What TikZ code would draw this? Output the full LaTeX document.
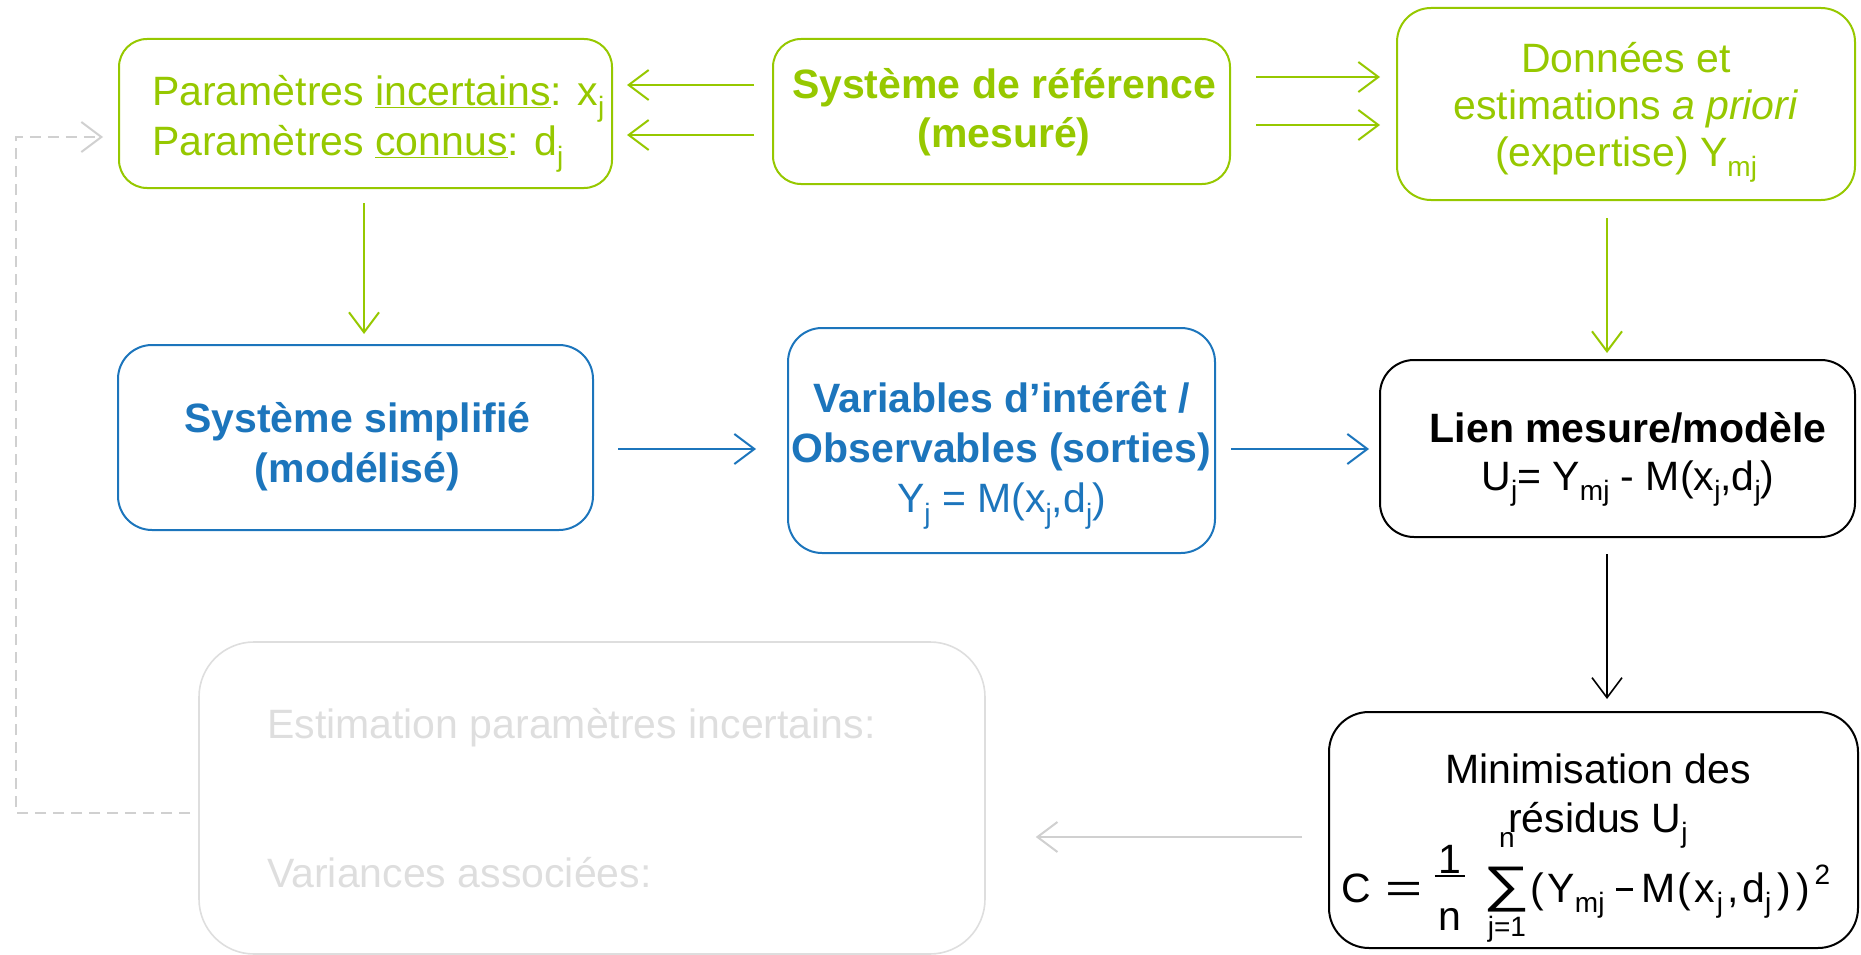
\documentclass[tikz,border=0pt]{standalone}
\usepackage{fontspec}
\setmainfont{Liberation Sans}
\usepackage{graphicx}
\usetikzlibrary{arrows.meta,calc}

\definecolor{leaf}{RGB}{150,200,0}
\definecolor{sea}{RGB}{28,117,188}
\definecolor{fog}{RGB}{222,222,222}
\definecolor{fogline}{RGB}{208,208,208}

% lowered small index, as in x_j
\newcommand\lofont{\fontsize{28}{28}\selectfont}
\newcommand\lo[1]{\raisebox{-0.25em}{\lofont #1}}
\newcommand\fsz{\fontsize{41}{49}\selectfont}
% pieces of the cost formula: 1/n and the sum with its bounds
\newcommand\onen{\makebox[30pt]{\rlap{\raisebox{29pt}{\makebox[30pt]{1}}}\rlap{\rule[25pt]{30pt}{1.6pt}}\raisebox{-28pt}{\makebox[30pt]{n}}}}
\newcommand\sumjn{\makebox[46pt]{\rlap{\raisebox{55pt}{\makebox[46pt]{\lofont n}}}\rlap{\raisebox{-34pt}{\makebox[46pt]{\lofont j=1}}}\raisebox{1pt}{\makebox[46pt]{\scalebox{1.3}[1]{\fontsize{50}{50}\selectfont ∑}}}}}
\newcommand\mns{\rule[11pt]{17pt}{2.6pt}}

\tikzset{
  box/.style={draw, line width=2pt, rounded corners=28pt, inner sep=0pt},
  gbox/.style={box, draw=leaf},
  bbox/.style={box, draw=sea},
  kbox/.style={box, draw=black},
  txt/.style={inner sep=0pt, align=center, font=\fsz},
  tipv/.style={-{Straight Barb[length=20pt,width=30pt,line width=#1]}},
  garr/.style={draw=leaf, line width=2pt, tipv=2pt},
  barr/.style={draw=sea, line width=2pt, tipv=2pt},
  karr/.style={draw=black, line width=1.6pt, tipv=1.6pt},
  farr/.style={draw=fogline, line width=2pt, tipv=2pt},
  fdash/.style={draw=fogline, line width=2pt, dash pattern=on 11pt off 7pt, tipv=2pt},
}

\begin{document}
\begin{tikzpicture}[x=1pt,y=-1pt]
\useasboundingbox (0,0) rectangle (1861,955);

% top row
\node[gbox, minimum width=493pt, minimum height=149pt] (par) at (365.5,113.5) {};
\node[txt, text=leaf, align=left, anchor=west, font=\fontsize{41}{50}\selectfont] (part) at (152,123.7)
  {Paramètres \underline{incertains}: x\lo{j}\\Paramètres \underline{connus}: d\lo{j}};

\node[gbox, minimum width=457pt, minimum height=145pt] (ref) at (1001.5,111.5) {};
\node[txt, text=leaf, font=\fsz\bfseries] (reft) at (1004,111.8)
  {Système de référence\\(mesuré)};

\node[gbox, rounded corners=34pt, minimum width=458pt, minimum height=192pt] (don) at (1626,104) {};
\node[txt, text=leaf, font=\fontsize{41}{47}\selectfont] (dont) at (1626,112.5)
  {Données et\\estimations \textit{a priori}\\(expertise) Y\lo{mj}};

% middle row
\node[bbox, rounded corners=34pt, minimum width=475pt, minimum height=185pt] (sim) at (355.5,437.5) {};
\node[txt, text=sea, font=\fontsize{41}{50}\selectfont\bfseries] (simt) at (357.5,446.3)
  {Système simplifié\\(modélisé)};

\node[bbox, rounded corners=34pt, minimum width=427pt, minimum height=225pt] (var) at (1001.5,440.5) {};
\node[txt, text=sea, font=\fontsize{41}{50}\selectfont] (vart) at (1001.5,455.5)
  {\textbf{Variables d’intérêt /}\\\textbf{Observables (sorties)}\\Y\lo{j} = M(x\lo{j},d\lo{j})};

\node[kbox, rounded corners=34pt, minimum width=475pt, minimum height=177pt] (lien) at (1617.5,448.5) {};
\node[txt, font=\fontsize{41}{48}\selectfont] (lient) at (1628,459.5)
  {\textbf{Lien mesure/modèle}\\U\lo{j}= Y\lo{mj} - M(x\lo{j},d\lo{j})};

% bottom row
\node[kbox, rounded corners=40pt, minimum width=529pt, minimum height=236pt] (mini) at (1593.5,830) {};
\node[txt] (minit) at (1598,801) {Minimisation des\\résidus U\lo{j}};
\node[inner sep=0pt, anchor=base west, font=\fontsize{41}{41}\selectfont] (minif) at (1341,902)
  {C\hspace{15pt}\scalebox{1.55}[1]{=}\hspace{12pt}\onen\hspace{19pt}\sumjn\hspace{1pt}(\hspace{3pt}Y\lo{mj}\hspace{12pt}\mns\hspace{8pt}M\hspace{2pt}(\hspace{3pt}x\hspace{2pt}\lo{j}\hspace{4pt},\hspace{4pt}d\lo{j}\hspace{6pt})\hspace{5pt})\hspace{5pt}\raisebox{18pt}{\lofont 2}};

\node[draw=fog, line width=1.6pt, rounded corners=55pt, minimum width=786pt, minimum height=312pt] (est) at (592,798) {};
\node[anchor=base west, text=fog, font=\fsz, inner sep=0pt] (est1) at (267,738) {Estimation paramètres incertains:};
\node[anchor=base west, text=fog, font=\fsz, inner sep=0pt] (est2) at (267,887) {Variances associées:};

% connectors
\draw[garr] ($(ref.west)+(-18,-26.5)$) -- ($(par.east)+(14,-28.5)$);
\draw[garr] ($(ref.west)+(-18,23.5)$) -- ($(par.east)+(14,21.5)$);
\draw[garr] ($(ref.east)+(25,-34.5)$) -- ($(don.west)+(-16,-27)$);
\draw[garr] ($(ref.east)+(25,13.5)$) -- ($(don.west)+(-16,21)$);
\draw[garr] ($(par.south)+(-1.5,14)$) -- ($(sim.north)+(8.5,-10)$);
\draw[garr] ($(don.south)+(-19,17)$) -- ($(lien.north)+(-10.5,-6)$);
\draw[barr] ($(sim.east)+(24,11.5)$) -- ($(var.west)+(-31,8.5)$);
\draw[barr] ($(var.east)+(15,8.5)$) -- ($(lien.west)+(-10,0.5)$);
\draw[karr] ($(lien.south)+(-10.5,16)$) -- ($(mini.north)+(13.5,-12)$);
\draw[farr] ($(mini.west)+(-26,7)$) -- ($(est.east)+(50,39)$);

% feedback loop
\coordinate (bendlow) at (16,813);
\coordinate (bendhigh) at (16,137);
\draw[fdash] ($(est.west)+(-8,15)$) -- (bendlow) -- (bendhigh) -- ($(par.west)+(-15,23.5)$);
\end{tikzpicture}
\end{document}
